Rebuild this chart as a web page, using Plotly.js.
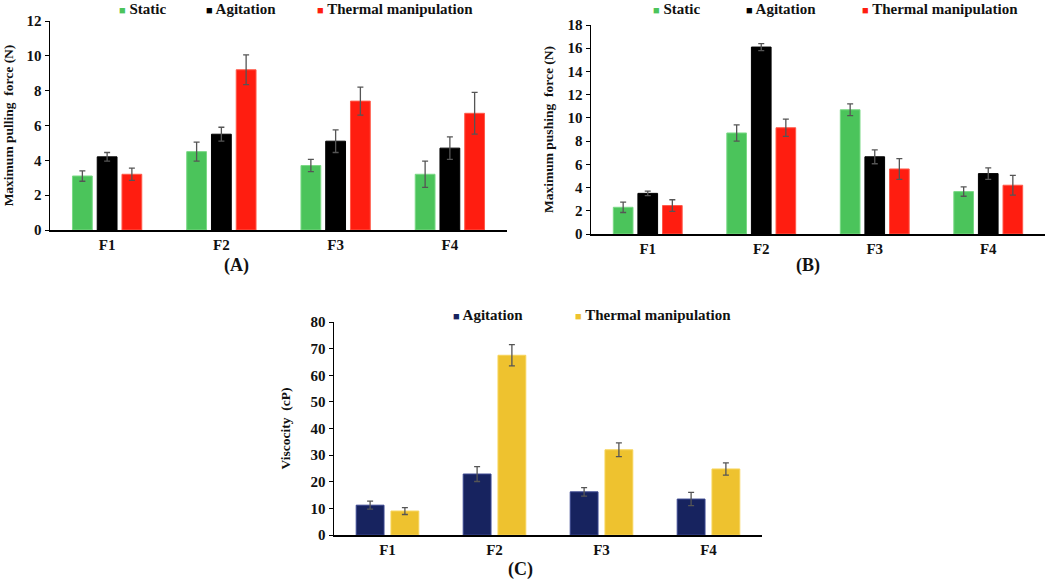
<!DOCTYPE html>
<html>
<head>
<meta charset="utf-8">
<script src="https://cdn.plot.ly/plotly-3.0.1.min.js"></script>
<style>html,body{margin:0;padding:0;background:#fff;}#chart{width:1050px;height:584px;}</style>
</head>
<body>
<div id="chart"></div>
<script>
// ---- Data ----
const categories = ["F1", "F2", "F3", "F4"];
const seriesA = ["Static", "Agitation", "Thermal manipulation"];
const seriesC = ["Agitation", "Thermal manipulation"];

// Panel A: Maximum pulling force (N)
const pullStatic = [3.1, 4.5, 3.7, 3.2];
const pullStaticErr = [0.3, 0.55, 0.35, 0.75];
const pullAgitation = [4.2, 5.5, 5.1, 4.7];
const pullAgitationErr = [0.25, 0.4, 0.65, 0.65];
const pullThermal = [3.2, 9.2, 7.4, 6.7];
const pullThermalErr = [0.35, 0.85, 0.8, 1.2];

// Panel B: Maximum pushing force (N)
const pushStatic = [2.3, 8.7, 10.7, 3.65];
const pushStaticErr = [0.45, 0.7, 0.5, 0.4];
const pushAgitation = [3.5, 16.1, 6.65, 5.2];
const pushAgitationErr = [0.2, 0.3, 0.6, 0.5];
const pushThermal = [2.45, 9.15, 5.6, 4.2];
const pushThermalErr = [0.5, 0.75, 0.9, 0.85];

// Panel C: Viscosity (cP)
const viscAgitation = [11.2, 22.9, 16.2, 13.5];
const viscAgitationErr = [1.5, 2.8, 1.6, 2.5];
const viscThermal = [9.0, 67.5, 32.0, 24.8];
const viscThermalErr = [1.3, 4.0, 2.6, 2.3];

// ---- Style ----
const FONT = "'Liberation Serif', 'DejaVu Serif', serif";
const GREEN = "#4bc45b", BLACK = "#000000", RED = "#ff1d10";
const NAVY = "#17235f", GOLD = "#eec22f";
const ERR = {color: "#555555", thickness: 1.3, width: 3};

function bar(name, y, err, color, line, xa, ya) {
  return {
    type: "bar", name: name, x: categories, y: y,
    xaxis: xa, yaxis: ya, showlegend: false,
    marker: {color: color, line: {color: line, width: 1}},
    error_y: Object.assign({type: "data", array: err, visible: true}, ERR),
    hoverinfo: "x+y+name"
  };
}

const data = [
  bar(seriesA[0], pullStatic, pullStaticErr, GREEN, "#7ad985", "x", "y"),
  bar(seriesA[1], pullAgitation, pullAgitationErr, BLACK, "#000", "x", "y"),
  bar(seriesA[2], pullThermal, pullThermalErr, RED, "#ff5a4a", "x", "y"),
  bar(seriesA[0], pushStatic, pushStaticErr, GREEN, "#7ad985", "x2", "y2"),
  bar(seriesA[1], pushAgitation, pushAgitationErr, BLACK, "#000", "x2", "y2"),
  bar(seriesA[2], pushThermal, pushThermalErr, RED, "#ff5a4a", "x2", "y2"),
  bar(seriesC[0], viscAgitation, viscAgitationErr, NAVY, "#3a4790", "x3", "y3"),
  bar(seriesC[1], viscThermal, viscThermalErr, GOLD, "#f7d45a", "x3", "y3")
];

const W = 1050, H = 584;
const px = v => v / W, py = v => 1 - v / H;
const tickFont = {family: FONT, size: 15, color: "#111", weight: "bold"};
const titleFont = {family: FONT, size: 13.5, color: "#111", weight: "bold"};

function xAxis(dom, anchor) {
  return {domain: dom, anchor: anchor, showline: true, linecolor: "#000", linewidth: 2,
    ticks: "", showgrid: false, zeroline: false, tickfont: tickFont, fixedrange: true};
}
function yAxis(dom, anchor, range, dtick, title, standoff) {
  return {domain: dom, anchor: anchor, range: range, dtick: dtick, showline: true, linecolor: "#000",
    linewidth: 1.5, ticks: "outside", ticklen: 4, tickcolor: "#000", showgrid: false, zeroline: false,
    tickfont: tickFont, title: {text: title, font: titleFont, standoff: standoff}, fixedrange: true};
}

// legend entries as real text: coloured square + series name
const legFont = {family: FONT, size: 15, color: "#111", weight: "bold"};
function legItem(name, color, x, y) {
  return {text: "<span style='color:" + color + ";font-size:11px'>■</span> " + name,
    x: px(x), y: py(y), xref: "paper", yref: "paper", xanchor: "left", yanchor: "middle",
    showarrow: false, font: legFont};
}
function label(t, x, y) {
  return {text: t, x: px(x), y: py(y), xref: "paper", yref: "paper", xanchor: "center", yanchor: "middle",
    showarrow: false, font: {family: FONT, size: 18, color: "#111", weight: "bold"}};
}

const layout = {
  width: W, height: H,
  margin: {l: 0, r: 0, t: 0, b: 0},
  paper_bgcolor: "#fff", plot_bgcolor: "#fff",
  barmode: "group", bargap: 0.35, bargroupgap: 0.2,
  showlegend: false,
  xaxis: xAxis([px(50), px(507)], "y"),
  yaxis: yAxis([py(230), py(21)], "x", [0, 12], 2, "Maximum pulling  force (N)", 10),
  xaxis2: xAxis([px(591), px(1045)], "y2"),
  yaxis2: yAxis([py(234), py(25)], "x2", [0, 18], 2, "Maximum pushing  force (N)", 11),
  xaxis3: xAxis([px(334), px(762)], "y3"),
  yaxis3: yAxis([py(535), py(322)], "x3", [0, 80], 10, "Viscocity  (cP)", 17),
  annotations: [
    legItem(seriesA[0], GREEN, 117, 9),
    legItem(seriesA[1], BLACK, 204, 9),
    legItem(seriesA[2], RED, 315, 9),
    legItem(seriesA[0], GREEN, 651, 9),
    legItem(seriesA[1], BLACK, 744, 9),
    legItem(seriesA[2], RED, 860, 9),
    legItem(seriesC[0], NAVY, 451, 315),
    legItem(seriesC[1], GOLD, 573, 315),
    label("(A)", 237, 266),
    label("(B)", 808, 266),
    label("(C)", 520, 569)
  ]
};

Plotly.newPlot("chart", data, layout, {displayModeBar: false, staticPlot: true});
</script>
</body>
</html>
